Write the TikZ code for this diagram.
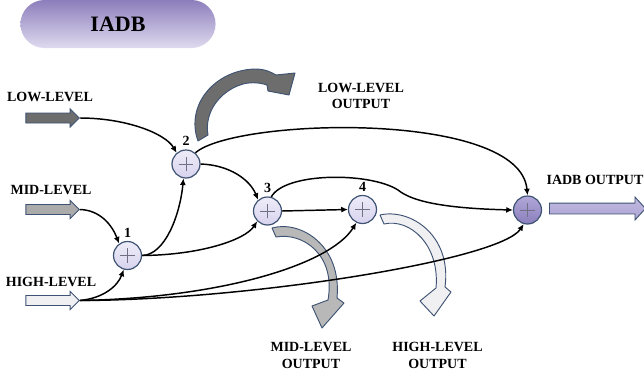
\documentclass[tikz,border=0pt]{standalone}
\usepackage{fontspec}
\setmainfont{Liberation Serif}
\usetikzlibrary{arrows.meta,positioning,shapes.arrows,shapes.misc}
\definecolor{edge}{HTML}{3E5373}
\definecolor{lowgrey}{HTML}{6D6D6D}
\definecolor{midgrey}{HTML}{ABABAB}
\definecolor{highgrey}{HTML}{F0F0F2}
\definecolor{lavtop}{HTML}{EEECF8}
\definecolor{lavbot}{HTML}{D8D3EE}
\definecolor{purtop}{HTML}{B2A8D8}
\definecolor{purbot}{HTML}{8B7EBD}
\definecolor{pilltop}{HTML}{8C7EBC}
\definecolor{pillbot}{HTML}{E0DAEF}
\definecolor{plusgrey}{HTML}{707084}

\tikzset{
  lbl/.style={font=\bfseries\fontsize{10.5}{12.5}\selectfont, align=center, inner sep=0pt},
  num/.style={font=\bfseries\fontsize{10.5}{12}\selectfont, inner sep=0pt},
  sumnode/.style={circle, draw=edge, line width=0.9pt, minimum size=21pt, inner sep=0pt, top color=lavtop, bottom color=lavbot},
  outnode/.style={sumnode, top color=purtop, bottom color=purbot},
  inarrow/.style={single arrow, draw=edge, line width=0.7pt, minimum height=40pt, inner sep=3.4pt, single arrow head extend=3pt, single arrow tip angle=90},
  link/.style={line width=1.1pt, -{Latex[length=5pt,width=4.5pt]}},
  plusmark/.style={draw=plusgrey, line width=0.5pt},
  fatarrow/.style={draw=edge, line width=0.7pt, line join=round}
}

\begin{document}
\begin{tikzpicture}[x=0.75pt, y=-0.75pt]
  \useasboundingbox (0,0) rectangle (644,379);

  % title
  \node[rounded rectangle, minimum width=153pt, minimum height=36pt, top color=pilltop, bottom color=pillbot,
        font=\bfseries\fontsize{16.5}{18}\selectfont] (title) at (118,24) {IADB};

  % inputs
  \node[lbl] (lowlbl) at (50,97) {LOW-LEVEL};
  \node[lbl] (midlbl) at (51,190) {MID-LEVEL};
  \node[lbl] (highlbl) at (51,282) {HIGH-LEVEL};
  \node[inarrow, fill=lowgrey] (lowin) at (50,118) {};
  \node[inarrow, fill=midgrey] (midin) at (50,209.5) {};
  \node[inarrow, fill=highgrey] (highin) at (50,300.5) {};

  % fat output arrows
  \draw[fatarrow, fill=lowgrey] (198,141) .. controls (185,105) and (215,70) .. (255,69)
    .. controls (265,69) and (271,72) .. (276,75) -- (295,73) -- (289,95) -- (268,91) -- (267,85)
    .. controls (258,82) and (248,82) .. (240,85) .. controls (220,92) and (204,112) .. (208,135) -- cycle;
  \draw[fatarrow, fill=midgrey!85!white] (272,228) .. controls (300,220) and (342,245) .. (337,298)
    -- (344,303) -- (322,328) -- (312,306) -- (328,300)
    .. controls (336,255) and (303,232) .. (276,237) -- cycle;
  \draw[fatarrow, fill=highgrey] (380,215) .. controls (410,208) and (452,235) .. (445,287)
    -- (451,292) -- (434,316) -- (420,301) -- (436,288)
    .. controls (440,245) and (410,218) .. (384,224) -- cycle;

  % adders
  \node[sumnode] (s1) at (127.5,255.5) {};
  \node[sumnode] (s2) at (186,164) {};
  \node[sumnode] (s3) at (267.5,211) {};
  \node[sumnode] (s4) at (362.5,209.5) {};
  \node[outnode] (sout) at (527.5,210) {};
  \foreach \n in {s1,s2,s3,s4,sout}
    \draw[plusmark] ([xshift=-5.6pt]\n.center) -- ([xshift=5.6pt]\n.center)
                    ([yshift=-5.6pt]\n.center) -- ([yshift=5.6pt]\n.center);
  \node[num, above=2.5pt of s1] (n1) {1};
  \node[num, above=2.5pt of s2] (n2) {2};
  \node[num, above=2.5pt of s3] (n3) {3};
  \node[num, above=2.5pt of s4] (n4) {4};

  % output arrow
  \node[single arrow, draw=edge, line width=0.7pt, minimum height=72pt, inner sep=3.75pt,
        single arrow head extend=4.5pt, single arrow tip angle=95, top color=purtop!80!white, bottom color=purtop!90!purbot] (iadbout) at (595,208.5) {};
  \node[lbl] (outlbl) at (595,180) {IADB OUTPUT};

  % output labels
  \node[lbl] (lowout) at (361,96) {LOW-LEVEL\\OUTPUT};
  \node[lbl] (midout) at (311,355.5) {MID-LEVEL\\OUTPUT};
  \node[lbl] (highout) at (437.5,355.5) {HIGH-LEVEL\\OUTPUT};

  % connections
  \draw[link] (lowin.tip) .. controls (125,118) and (165,133) .. (s2.130);
  \draw[link] (midin.tip) .. controls (100,210) and (112,225) .. (s1.125);
  \draw[link] (highin.tip) .. controls (105,298) and (118,285) .. (s1.-105);
  \draw[link] (highin.tip) .. controls (220,298) and (330,265) .. (s4.-115);
  \draw[link] (highin.tip) .. controls (250,300) and (500,260) .. (sout.-105);
  \draw[link] (s1.east) .. controls (165,255) and (180,215) .. (s2.-100);
  \draw[link] (s1.east) .. controls (200,255) and (245,240) .. (s3.-135);
  \draw[link] (s2.east) .. controls (230,165) and (250,180) .. (s3.130);
  \draw[link] (s2.50) .. controls (235,118) and (520,110) .. (sout.north);
  \draw[link] (s3.75) .. controls (285,172) and (370,172) .. (398,190)
    .. controls (408,198) and (430,208) .. (sout.west);
  \draw[link] (s3.east) -- (s4.west);
\end{tikzpicture}
\end{document}
